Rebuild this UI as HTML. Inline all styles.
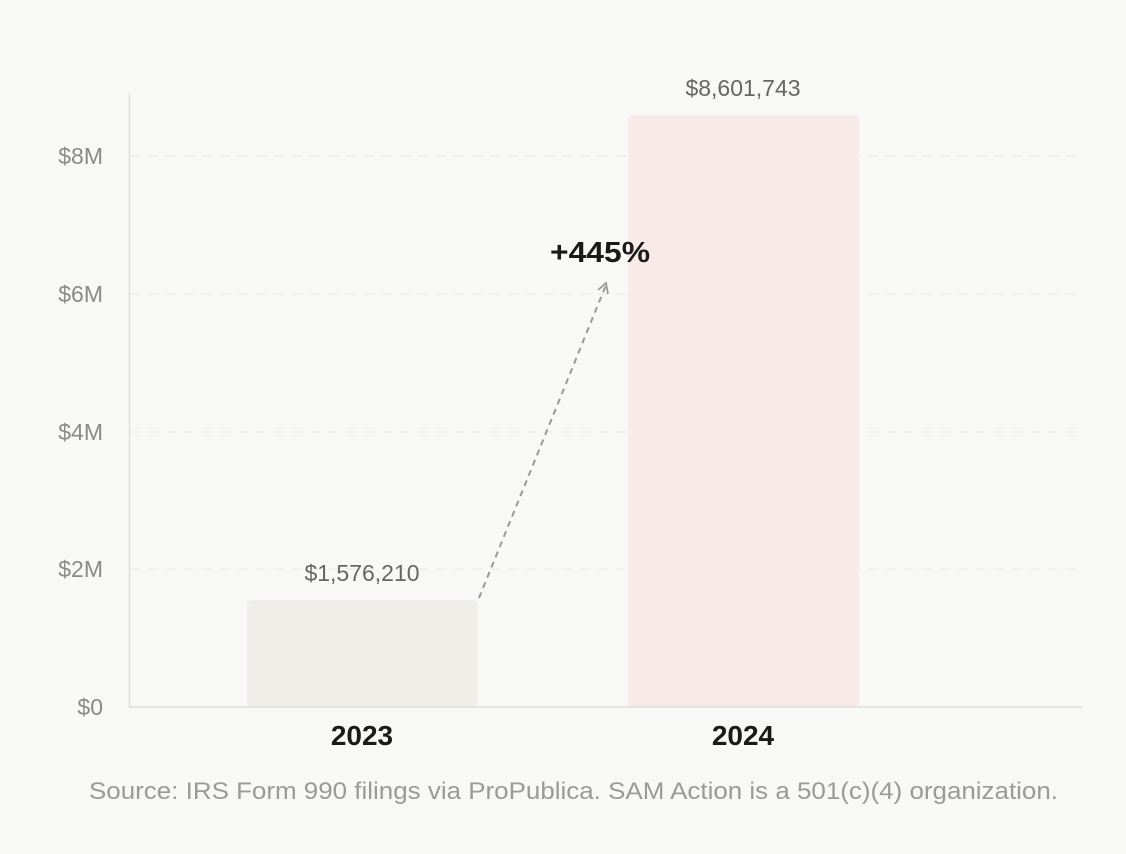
<!DOCTYPE html>
<html><head><style>
html,body{margin:0;padding:0;background:#f8f8f6;}
svg{display:block;}
text{font-family:"Liberation Sans",sans-serif;}
</style></head><body>
<svg width="1126" height="854" viewBox="0 0 1126 854">
<rect width="1126" height="854" fill="#f8f8f6"/>
<g stroke="#e6e6e2" stroke-width="1" stroke-dasharray="10,8">
<line x1="130" y1="156" x2="1082" y2="156"/>
<line x1="130" y1="294" x2="1082" y2="294"/>
<line x1="130" y1="432" x2="1082" y2="432"/>
<line x1="130" y1="569" x2="1082" y2="569"/>
</g>
<rect x="247" y="600" width="231" height="107" rx="5" fill="#efeee9"/>
<rect x="628" y="115" width="231" height="592" rx="5" fill="#f8ebe7"/>
<line x1="129.5" y1="93" x2="129.5" y2="707" stroke="#dddddb" stroke-width="1.5"/>
<line x1="129" y1="707" x2="1082" y2="707" stroke="#dddddb" stroke-width="1.5"/>
<g fill="#8a8a88" font-size="23" text-anchor="end">
<text x="103" y="164">$8M</text>
<text x="103" y="302">$6M</text>
<text x="103" y="440">$4M</text>
<text x="103" y="577">$2M</text>
<text x="103" y="715">$0</text>
</g>
<g fill="#666" font-size="23" text-anchor="middle">
<text x="362" y="581">$1,576,210</text>
<text x="743" y="96">$8,601,743</text>
</g>
<g fill="#1a1a1a" font-size="28" font-weight="bold" text-anchor="middle">
<text x="362" y="745">2023</text>
<text x="743" y="745">2024</text>
</g>
<line x1="479" y1="598" x2="606" y2="285" stroke="#999" stroke-width="2" stroke-dasharray="6,5"/>
<polyline points="598,290 606,283 608,294" fill="none" stroke="#999" stroke-width="1.8"/>
<text x="600" y="262" fill="#1a1a1a" font-size="29" font-weight="bold" text-anchor="middle" textLength="100" lengthAdjust="spacingAndGlyphs">+445%</text>
<text x="89" y="799" fill="#9a9a98" font-size="24" textLength="969" lengthAdjust="spacingAndGlyphs">Source: IRS Form 990 filings via ProPublica. SAM Action is a 501(c)(4) organization.</text>
</svg>
</body></html>
